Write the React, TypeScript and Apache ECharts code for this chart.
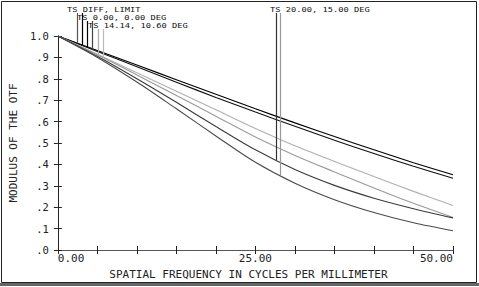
import React, { useEffect, useRef } from "react";
import * as echarts from "echarts";

const freq = [0, 5, 10, 15, 20, 25, 30, 35, 40, 45, 50];
const diffLimit = [1, 0.932, 0.864, 0.796, 0.728, 0.66, 0.594, 0.53, 0.468, 0.408, 0.352];
const onAxis = [1, 0.928, 0.856, 0.784, 0.713, 0.645, 0.578, 0.513, 0.451, 0.391, 0.335];
const midT = [1, 0.915, 0.828, 0.742, 0.655, 0.568, 0.487, 0.414, 0.343, 0.274, 0.208];
const midS = [1, 0.912, 0.818, 0.722, 0.625, 0.528, 0.442, 0.365, 0.29, 0.218, 0.152];
const edgeT = [1, 0.905, 0.8, 0.69, 0.577, 0.468, 0.376, 0.302, 0.242, 0.193, 0.15];
const edgeS = [1, 0.9, 0.785, 0.66, 0.533, 0.41, 0.312, 0.235, 0.175, 0.127, 0.09];

const curves = [diffLimit, onAxis, midT, midS, edgeT, edgeS];
const curveColors = ["#000000", "#111111", "#b0b0b0", "#9a9a9a", "#3a3a3a", "#4a4a4a"];

const legendLabels = ["TS DIFF, LIMIT", "TS 0.00, 0.00 DEG", "TS 14.14, 10.60 DEG", "TS 20.00, 15.00 DEG"];
const leaderNu = [2.48, 3.09, 3.71, 4.33, 5.07, 5.69, 27.6, 28.1];
const leaderCurve = [0, 0, 1, 1, 2, 3, 4, 5];
const leaderColors = ["#555555", "#000000", "#000000", "#444444", "#aaaaaa", "#bbbbbb", "#333333", "#999999"];
const leaderTop = [13, 13, 21, 21, 29, 29, 13, 13];

const xTickLabels = ["0.00", "25.00", "50.00"];

function valueAt(curve: number[], nu: number) {
  for (let i = 0; i < freq.length - 1; i++) {
    if (nu >= freq[i] && nu <= freq[i + 1]) {
      const t = (nu - freq[i]) / (freq[i + 1] - freq[i]);
      return curve[i] + t * (curve[i + 1] - curve[i]);
    }
  }
  return curve[curve.length - 1];
}

const MONO = "'DejaVu Sans Mono', monospace";

export default function App() {
  const ref = useRef<HTMLDivElement>(null);
  useEffect(() => {
    const chart = echarts.init(ref.current!, undefined, { renderer: "svg" });
    const axisColor = "#222";
    const tick = { show: true, inside: true, length: 4, lineStyle: { color: axisColor, width: 1 } };
    const lineSeries = curves.map((c, i) => ({
      type: "line",
      data: freq.map((f, j) => [f, c[j]]),
      showSymbol: false,
      smooth: 0.3,
      lineStyle: { color: curveColors[i], width: 1.1 },
      z: 3,
    }));
    const leaderData = leaderNu.map((nu, i) => [nu, valueAt(curves[leaderCurve[i]], nu), leaderTop[i], i]);
    const labelText = (x: number, y: number, text: string) => ({
      type: "text",
      x,
      y,
      scaleX: 1.12,
      style: { text, font: `7.8px ${MONO}`, fill: "#111", verticalAlign: "top" },
    });
    const option: any = {
      animation: false,
      backgroundColor: "#ffffff",
      grid: { left: 49, top: 36, width: 404, height: 214, containLabel: false },
      xAxis: [
        {
          type: "value",
          min: 0,
          max: 50,
          interval: 5,
          position: "bottom",
          axisLine: { show: true, lineStyle: { color: axisColor, width: 1 } },
          axisTick: tick,
          splitLine: { show: false },
          axisLabel: {
            margin: 3,
            fontFamily: MONO,
            fontSize: 11,
            color: "#222",
            alignMinLabel: "left",
            alignMaxLabel: "right",
            formatter: (v: number) => (v === 0 ? xTickLabels[0] : v === 25 ? xTickLabels[1] : v === 50 ? xTickLabels[2] : ""),
          },
          name: "SPATIAL FREQUENCY IN CYCLES PER MILLIMETER",
          nameLocation: "middle",
          nameGap: 12,
          nameTextStyle: { fontFamily: MONO, fontSize: 11, color: "#222", padding: [0, 14, 0, 0] },
        },
        {
          type: "value",
          min: 0,
          max: 50,
          interval: 5,
          position: "top",
          axisLine: { show: true, lineStyle: { color: "#555", width: 1 } },
          axisTick: tick,
          splitLine: { show: false },
          axisLabel: { show: false },
        },
      ],
      yAxis: [
        {
          type: "value",
          min: 0,
          max: 1,
          interval: 0.1,
          position: "left",
          axisLine: { show: true, lineStyle: { color: axisColor, width: 1 } },
          axisTick: tick,
          splitLine: { show: false },
          axisLabel: {
            margin: 9,
            fontFamily: MONO,
            fontSize: 10.5,
            color: "#222",
            formatter: (v: number) => (v >= 0.999 ? "1.0" : "." + Math.round(v * 10)),
          },
          name: "MODULUS OF THE OTF",
          nameLocation: "middle",
          nameGap: 31,
          nameRotate: 90,
          nameTextStyle: { fontFamily: MONO, fontSize: 11, color: "#222" },
        },
        {
          type: "value",
          min: 0,
          max: 1,
          interval: 0.1,
          position: "right",
          axisLine: { show: true, lineStyle: { color: axisColor, width: 1 } },
          axisTick: tick,
          splitLine: { show: false },
          axisLabel: { show: false },
        },
      ],
      series: [
        ...lineSeries,
        {
          type: "custom",
          data: leaderData,
          clip: false,
          z: 4,
          renderItem: (params: any, api: any) => {
            const p = api.coord([api.value(0), api.value(1)]);
            const top = api.value(2);
            const idx = api.value(3);
            return {
              type: "line",
              shape: { x1: Math.round(p[0]) + 0.5, y1: top, x2: Math.round(p[0]) + 0.5, y2: p[1] },
              style: { stroke: leaderColors[idx], lineWidth: 1.2 },
            };
          },
        },
      ],
      graphic: [
        { type: "rect", shape: { x: 1.5, y: 1.5, width: 475, height: 281 }, style: { fill: "none", stroke: "#222", lineWidth: 1 }, silent: true },
        { type: "rect", shape: { x: 0, y: 283, width: 479, height: 3 }, style: { fill: "#666" }, silent: true },
        labelText(67, 5, legendLabels[0]),
        labelText(77, 13, legendLabels[1]),
        labelText(88, 21, legendLabels[2]),
        labelText(270, 5, legendLabels[3]),
      ],
    };
    chart.setOption(option);
    return () => chart.dispose();
  }, []);
  return (
    <div
      ref={ref}
      style={{ position: "fixed", left: 0, top: 0, width: 479, height: 287, background: "#fff" }}
    />
  );
}
